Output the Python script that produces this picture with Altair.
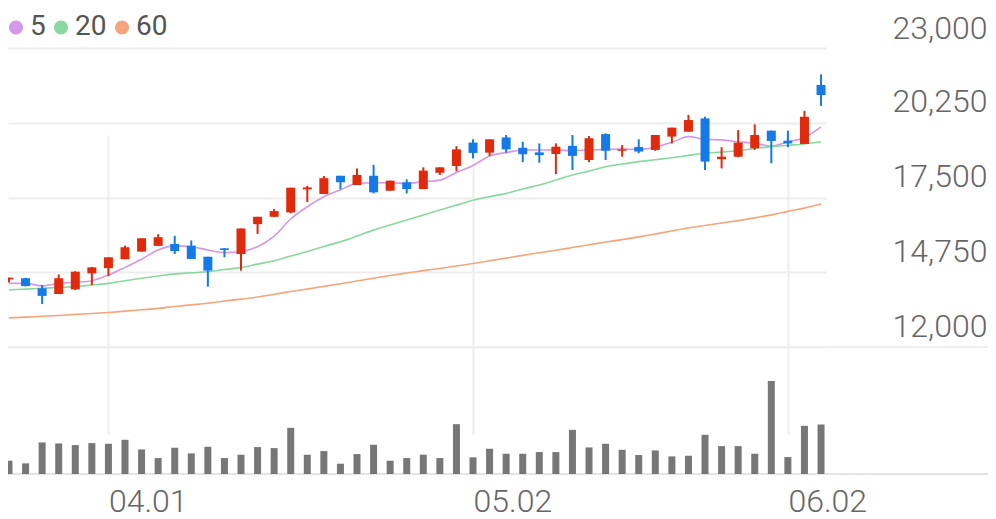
import altair as alt
import pandas as pd

dates = ["03.24", "03.25", "03.26", "03.27", "03.28", "03.31", "04.01", "04.02", "04.03", "04.04",
         "04.07", "04.08", "04.09", "04.10", "04.11", "04.14", "04.15", "04.16", "04.17", "04.18",
         "04.21", "04.22", "04.23", "04.24", "04.25", "04.28", "04.29", "04.30", "05.02", "05.07",
         "05.08", "05.09", "05.12", "05.13", "05.14", "05.15", "05.16", "05.19", "05.20", "05.21",
         "05.22", "05.23", "05.26", "05.27", "05.28", "05.29", "05.30", "06.02", "06.04", "06.05"]
opens = [14490, 14530, 14160, 13950, 14120, 14710, 14900, 15230, 15510, 15720,
         15790, 15730, 15320, 15630, 15420, 16520, 16790, 16950, 17800, 17630,
         18300, 17960, 18300, 17750, 18060, 17810, 18410, 18660, 19520, 19150,
         19710, 19330, 19160, 19100, 19400, 18880, 19830, 19220, 19360, 19250,
         19740, 19920, 20410, 18910, 19000, 19310, 19960, 19590, 19470, 21640]
highs = [14550, 14540, 14280, 14670, 14790, 14940, 15300, 15730, 16000, 16150,
         16090, 15920, 15320, 15640, 16360, 16790, 17080, 17860, 17930, 18290,
         18300, 18570, 18700, 18120, 18170, 18610, 18610, 19390, 19640, 19640,
         19800, 19550, 19490, 19490, 19800, 19760, 19860, 19430, 19640, 19800,
         20070, 20540, 20470, 19350, 19980, 20190, 19960, 19960, 20690, 22030]
lows = [14370, 14230, 13580, 13950, 14100, 14280, 14610, 15230, 15510, 15720,
        15420, 15240, 14220, 15300, 14810, 16160, 16780, 16920, 17330, 17630,
        17800, 17960, 17650, 17750, 17650, 17810, 18330, 18460, 18940, 19030,
        19150, 18800, 18780, 18360, 18510, 18800, 18880, 19000, 19130, 19220,
        19490, 19920, 18510, 18570, 18980, 19250, 18760, 19350, 19470, 20870]
closes = [14550, 14240, 13880, 14530, 14770, 14930, 15300, 15670, 16000, 16040,
          15530, 15240, 14810, 15570, 16360, 16790, 17000, 17860, 17870, 18210,
          18060, 18330, 17690, 18120, 17810, 18490, 18610, 19270, 19140, 19640,
          19270, 19090, 19060, 19370, 19030, 19680, 19220, 19270, 19190, 19800,
          20070, 20350, 18820, 19000, 19520, 19800, 19580, 19490, 20470, 21270]
volumes = [40000, 32000, 95000, 92000, 87000, 93000, 91000, 103000, 74000, 48000,
           79000, 62000, 82000, 48000, 58000, 81000, 78000, 139000, 58000, 69000,
           31000, 60000, 88000, 40000, 48000, 58000, 48000, 150000, 50000, 76000,
           61000, 61000, 66000, 66000, 133000, 80000, 91000, 73000, 57000, 71000,
           53000, 55000, 118000, 84000, 84000, 61000, 280000, 51000, 145000, 149000]
ma5 = [14340, 14340, 14250, 14340, 14380, 14440, 14650, 14930, 15230, 15570,
       15720, 15690, 15570, 15470, 15510, 15690, 16080, 16710, 17160, 17530,
       17780, 18020, 18040, 18040, 18020, 18080, 18140, 18420, 18680, 19030,
       19150, 19250, 19250, 19250, 19220, 19250, 19270, 19280, 19270, 19350,
       19530, 19740, 19640, 19620, 19550, 19490, 19390, 19550, 19710, 20100]
ma20 = [14100, 14130, 14160, 14190, 14220, 14280, 14340, 14440, 14530, 14610,
        14690, 14730, 14770, 14850, 14920, 15050, 15170, 15350, 15510, 15700,
        15870, 16080, 16300, 16490, 16670, 16860, 17040, 17220, 17400, 17530,
        17650, 17810, 17960, 18140, 18330, 18470, 18630, 18730, 18820, 18890,
        18960, 19050, 19130, 19170, 19220, 19300, 19370, 19420, 19470, 19550]
ma60 = [13070, 13100, 13130, 13160, 13200, 13230, 13270, 13320, 13370, 13420,
        13490, 13550, 13610, 13690, 13760, 13840, 13940, 14040, 14130, 14230,
        14330, 14430, 14530, 14630, 14720, 14810, 14890, 14980, 15070, 15170,
        15270, 15370, 15470, 15560, 15660, 15760, 15860, 15950, 16050, 16160,
        16270, 16380, 16470, 16560, 16650, 16750, 16860, 16990, 17110, 17260]
price_ticks = [12000, 14750, 17500, 20250, 23000]
date_ticks = ["04.01", "05.02", "06.02"]
ma_names = ["5", "20", "60"]
ma_colors = ["#d597e8", "#88d8a0", "#f6a47c"]

RED = "#e12a0c"
BLUE = "#147ae8"
GRID = "#eeeeee"
FONT = "Roboto"
TOTAL_W = 980

n = len(dates)
df = pd.DataFrame({"idx": list(range(n)), "date": dates, "open": opens, "high": highs,
                   "low": lows, "close": closes, "volume": volumes})
ma_df = pd.concat([pd.DataFrame({"idx": list(range(n)), "ma": name, "value": vals})
                   for name, vals in zip(ma_names, [ma5, ma20, ma60])], ignore_index=True)

label_expr = "[" + ",".join(f"'{d}'" for d in dates) + "][datum.value]"
x_axis = alt.Axis(values=[dates.index(d) for d in date_ticks], labelExpr=label_expr,
                  grid=True, gridColor=GRID, gridWidth=2, domain=False, ticks=False, tickSize=0,
                  labelAlign="left", labelBaseline="alphabetic", labelPadding=37,
                  labelFont=FONT, labelFontSize=32, labelFontWeight=300, labelColor="#666666",
                  title=None, labelFlush=False, labelOverlap=False)
x_scale = alt.Scale(domain=[-0.06, 49.3], nice=False, zero=False, padding=0)
X = alt.X("idx:Q", scale=x_scale, axis=x_axis)

p_axis = alt.Axis(orient="right", values=price_ticks, labelExpr="format(datum.value, ',')",
                  grid=True, gridColor=GRID, gridWidth=2, domain=False, ticks=False, tickSize=0,
                  labelAlign="right", labelBaseline="alphabetic", labelPadding=161,
                  labelOffset={"condition": {"test": f"datum.value >= {max(price_ticks)}", "value": -10},
                               "value": -11},
                  labelFont=FONT, labelFontSize=32, labelFontWeight=300, labelColor="#666666",
                  title=None, labelFlush=False, labelOverlap=False)
p_scale = alt.Scale(domain=[min(price_ticks), max(price_ticks)], range=[339, 40], nice=False, zero=False)

candle_color = alt.condition("datum.close >= datum.open", alt.value(RED), alt.value(BLUE))

base_rule = alt.Chart(pd.DataFrame({"level": [price_ticks[0]]})).mark_rule(
    color=GRID, strokeWidth=2).encode(
    x=alt.value(0), x2=alt.value(TOTAL_W),
    y=alt.Y("level:Q", scale=p_scale, axis=p_axis))

ma_color_scale = alt.Scale(domain=ma_names, range=ma_colors)
ma_lines = alt.Chart(ma_df).mark_line(interpolate="monotone").encode(
    x=X, y=alt.Y("value:Q", scale=p_scale, axis=p_axis),
    strokeWidth=alt.value(1.6),
    color=alt.Color("ma:N", scale=ma_color_scale,
                    legend=alt.Legend(orient="none", legendX=-6, legendY=5, direction="horizontal",
                                      title=None, labelFont=FONT, labelFontSize=28,
                                      labelColor="#555555", labelFontWeight=400,
                                      symbolType="circle", symbolSize=44, symbolStrokeWidth=7.4,
                                      labelOffset=0, columnPadding=-4, padding=0)),
    detail="ma:N")

wicks = alt.Chart(df).mark_rule(strokeWidth=2).encode(
    x=X, y=alt.Y("low:Q", scale=p_scale, axis=p_axis), y2="high:Q", color=candle_color)
bodies = alt.Chart(df).mark_bar(size=9).encode(
    x=X, y=alt.Y("open:Q", scale=p_scale, axis=p_axis), y2="close:Q", color=candle_color)

v_scale = alt.Scale(domain=[0, max(volumes)], range=[466, 373], nice=False, zero=True)
vol_rule = alt.Chart(pd.DataFrame({"v": [0]})).mark_rule(color="#e4e4e4", strokeWidth=2).encode(
    x=alt.value(0), x2=alt.value(TOTAL_W), y=alt.Y("v:Q", scale=v_scale, axis=None))
vol_bars = alt.Chart(df).mark_bar(size=7, color="#777777").encode(
    x=X, y=alt.Y("volume:Q", scale=v_scale, axis=None))

price = alt.layer(base_rule, ma_lines, wicks, bodies)
vol = alt.layer(vol_rule, vol_bars)

chart = alt.layer(price, vol).resolve_scale(y="independent").properties(
    width=818, height=466,
    autosize=alt.AutoSizeParams(type="none"),
    padding={"left": 0, "top": 0, "right": TOTAL_W - 818, "bottom": 45},
    background="white",
).configure_view(stroke=None)

chart.save("out.html", embed_options={"renderer": "svg", "actions": False})
